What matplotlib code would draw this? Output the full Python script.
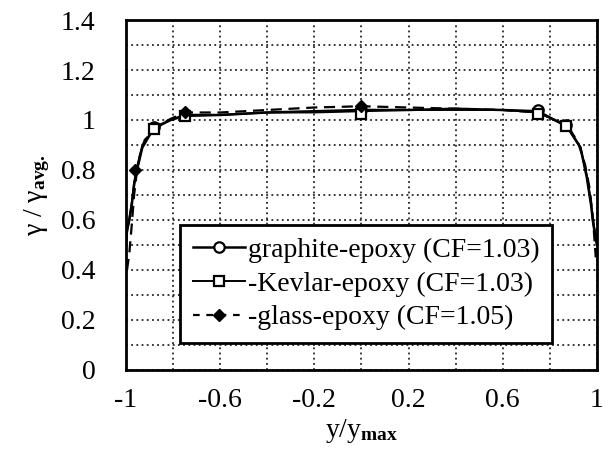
import matplotlib
matplotlib.use("Agg")
import matplotlib.pyplot as plt
from matplotlib.lines import Line2D
from matplotlib.ticker import MultipleLocator, FixedLocator

plt.rcParams['font.family'] = ['Liberation Serif', 'DejaVu Serif']
plt.rcParams['mathtext.fontset'] = 'custom'
plt.rcParams['mathtext.rm'] = 'Liberation Serif'
plt.rcParams['mathtext.it'] = 'Liberation Serif:italic'
plt.rcParams['mathtext.bf'] = 'Liberation Serif:bold'
plt.rcParams['axes.unicode_minus'] = False

# ---- data ----
graphite_x = [-1.0, -0.995, -0.985, -0.975, -0.965, -0.953, -0.93, -0.88, -0.81, -0.75, -0.6, -0.4,
              -0.2, 0.0, 0.2, 0.4, 0.6, 0.75, 0.82, 0.87, 0.93, 0.957, 0.975, 0.985, 0.995, 1.0]
graphite_y = [0.5, 0.56, 0.6, 0.66, 0.74, 0.8, 0.89, 0.97, 1.0, 1.02, 1.02, 1.03,
              1.035, 1.04, 1.04, 1.045, 1.04, 1.035, 1.0, 0.98, 0.89, 0.77, 0.66, 0.58, 0.53, 0.5]
kevlar_x = graphite_x
kevlar_y = [0.5, 0.55, 0.61, 0.67, 0.75, 0.81, 0.9, 0.965, 1.0, 1.015, 1.02, 1.03,
            1.03, 1.035, 1.04, 1.04, 1.04, 1.03, 1.0, 0.975, 0.89, 0.78, 0.67, 0.59, 0.53, 0.5]
glass_x = [-0.995, -0.985, -0.975, -0.965, -0.955, -0.94, -0.92, -0.88, -0.82, -0.75, -0.6, -0.4,
           -0.2, 0.0, 0.2, 0.4, 0.6, 0.75, 0.82, 0.88, 0.92, 0.95, 0.97, 0.985, 0.995]
glass_y = [0.4, 0.47, 0.58, 0.7, 0.78, 0.86, 0.92, 0.96, 1.0, 1.03, 1.03, 1.04,
           1.05, 1.055, 1.05, 1.045, 1.04, 1.03, 1.0, 0.97, 0.91, 0.82, 0.72, 0.58, 0.45]

graphite_mx = [-0.88, 0.0, 0.75, 0.87]
graphite_my = [0.97, 1.04, 1.04, 0.98]
kevlar_mx = [-0.88, -0.75, 0.0, 0.75, 0.87]
kevlar_my = [0.965, 1.015, 1.025, 1.025, 0.975]
glass_mx = [-0.963, -0.75, 0.0]
glass_my = [0.8, 1.03, 1.055]

labels = ['graphite-epoxy (CF=1.03)', '-Kevlar-epoxy (CF=1.03)', '-glass-epoxy (CF=1.05)']
x_major = [-1, -0.6, -0.2, 0.2, 0.6, 1]
x_labels = ['-1', '-0.6', '-0.2', '0.2', '0.6', '1']
y_major = [0, 0.2, 0.4, 0.6, 0.8, 1.0, 1.2, 1.4]
y_labels = ['0', '0.2', '0.4', '0.6', '0.8', '1', '1.2', '1.4']

fig = plt.figure(figsize=(6.11, 4.55), dpi=100)
ax = fig.add_axes([0.206, 0.187, 0.771, 0.769])

ax.plot(graphite_x, graphite_y, '-', color='black', lw=1.8, zorder=3)
ax.plot(kevlar_x, kevlar_y, '-', color='black', lw=1.4, zorder=3)
ax.plot(glass_x, glass_y, '--', color='black', lw=1.6, dashes=(5, 3), zorder=3)

ax.plot(graphite_mx, graphite_my, 'o', ms=7.5, mfc='white', mec='black', mew=1.6, zorder=4)
ax.plot(kevlar_mx, kevlar_my, 's', ms=6.5, mfc='white', mec='black', mew=1.6, zorder=4)
ax.plot(glass_mx, glass_my, 'D', ms=6.5, mfc='black', mec='black', zorder=5)

ax.set_xlim(-1, 1)
ax.set_ylim(0, 1.4)
ax.xaxis.set_major_locator(FixedLocator(x_major))
ax.set_xticklabels(x_labels)
ax.xaxis.set_minor_locator(FixedLocator([-0.8, -0.4, 0.0, 0.4, 0.8]))
ax.yaxis.set_major_locator(FixedLocator(y_major))
ax.set_yticklabels(y_labels)
ax.yaxis.set_minor_locator(MultipleLocator(0.1))

ax.grid(True, which='both', linestyle=(0, (1.2, 2.2)), color='black', lw=1.1)
ax.tick_params(which='both', length=0, labelsize=20)
ax.tick_params(axis='x', pad=13)
ax.tick_params(axis='y', pad=22)
for s in ax.spines.values():
    s.set_linewidth(2)
    s.set_zorder(6)

ax.set_xlabel(r'y/y$_{\mathbf{max}}$', fontsize=20, labelpad=3)
ax.set_ylabel(r'γ / γ$_{\mathbf{avg.}}$', fontsize=20, labelpad=6)

handles = [
    Line2D([], [], color='black', lw=1.8, marker='o', ms=7.5, mfc='white', mec='black', mew=1.6),
    Line2D([], [], color='black', lw=1.4, marker='s', ms=6.5, mfc='white', mec='black', mew=1.6),
    Line2D([], [], color='black', lw=1.6, ls='--', dashes=(3, 3), marker='D', ms=6.5, mfc='black', mec='black'),
]
leg = ax.legend(handles, labels, loc='lower left', bbox_to_anchor=(0.115, 0.077),
                fontsize=20, frameon=True, fancybox=False, framealpha=1,
                edgecolor='black', handlelength=1.9, handletextpad=0.1,
                borderpad=0.45, labelspacing=0.3, borderaxespad=0)
leg.get_frame().set_linewidth(2)
leg.set_zorder(7)

fig.savefig('out.png', dpi=100)
